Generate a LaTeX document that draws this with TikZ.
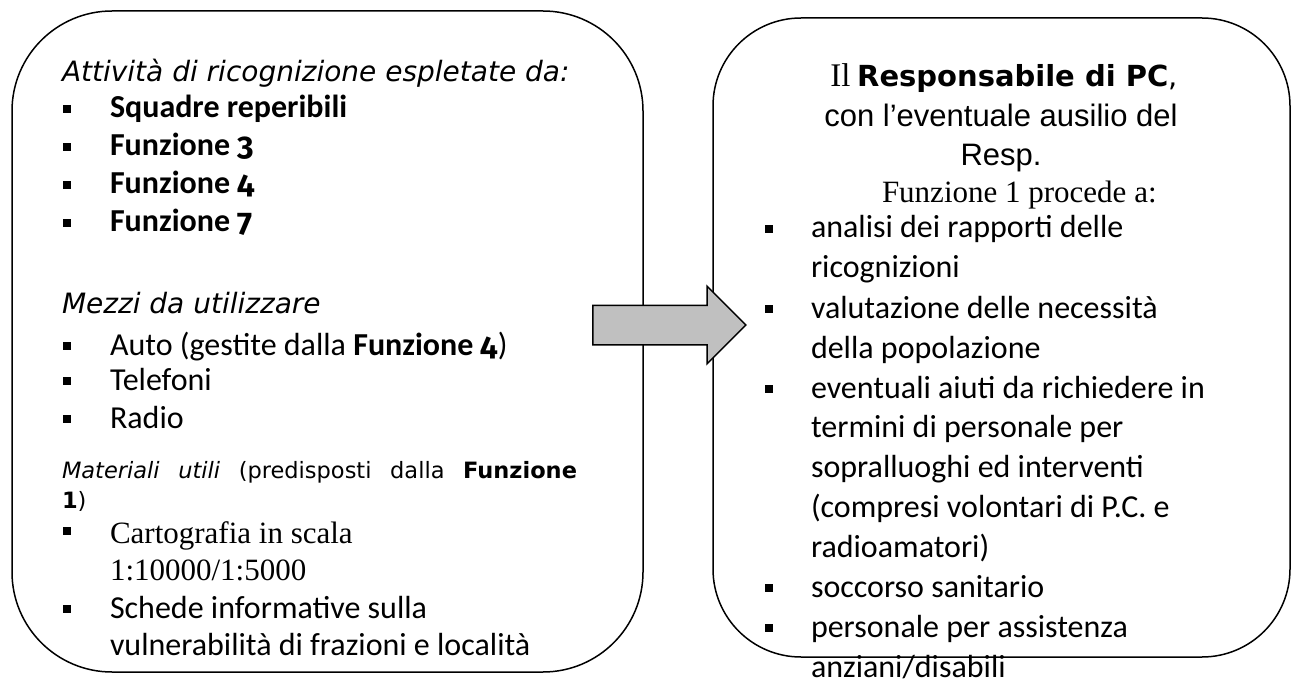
\documentclass[tikz,border=0pt]{standalone}
\usepackage{fontspec}
\setmainfont{Carlito}
\newfontfamily\oldnum{Fira Sans}[Numbers=OldStyle]
\newfontfamily\tahoma{DejaVu Sans}
\newfontfamily\arialf{Liberation Sans}
\newfontfamily\timesf{Liberation Serif}
\usepackage{tikz}
\usetikzlibrary{shapes.arrows}
\definecolor{arrowgray}{RGB}{192,192,192}
\tikzset{
  panel/.style={
    draw,
    line width=1.5pt,
    rounded corners=#1,
    inner sep=0pt
  },
  txt/.style={
    anchor=base west,
    inner sep=0pt,
    outer sep=0pt
  },
  calib/.style={txt, font=\fontsize{32}{38}\selectfont},
  tah/.style={txt, font=\tahoma\fontsize{28}{34}\selectfont},
  serif/.style={txt, font=\timesf\fontsize{31}{36}\selectfont},
  blockarrow/.style={
    single arrow,
    draw,
    fill=arrowgray,
    line width=1.5pt,
    minimum height=153pt,
    inner xsep=0pt,
    inner ysep=19pt,
    single arrow head extend=19pt
  }
}

\begin{document}
\begin{tikzpicture}[x=1pt, y=1pt]
  \useasboundingbox (0,0) rectangle (1291,-679);

  % Left block
  \node[panel=100pt, minimum width=631pt, minimum height=661pt] (recon) at (327.5,-341.5) {};
  \node[tah] (recon-title) at (62,-82) {\itshape Attivit\`a di ricognizione espletate da:};
  \node[calib] (squad) at (110,-118) {\bfseries Squadre reperibili};
  \node[calib] (f3) at (110,-156) {\bfseries Funzione {\oldnum 3}};
  \node[calib] (f4) at (110,-194) {\bfseries Funzione {\oldnum 4}};
  \node[calib] (f7) at (110,-232) {\bfseries Funzione {\oldnum 7}};

  \node[tah] (mezzi) at (62,-313) {\itshape Mezzi da utilizzare};
  \node[calib] (auto) at (110,-355) {Auto (gestite dalla \textbf{Funzione {\oldnum 4}})};
  \node[calib] (tel) at (110,-390) {Telefoni};
  \node[calib] (radio) at (110,-428) {Radio};

  \node[txt, font=\tahoma\fontsize{22.5}{30}\selectfont] (mat) at (62,-478)
    {\makebox[515pt][s]{\textit{Materiali} \textit{utili} (predisposti dalla \textbf{Funzione}}};
  \node[txt, font=\tahoma\fontsize{22.5}{30}\selectfont] (mat2) at (62,-508) {\textbf{1})};
  \node[serif] (carto) at (110,-543) {Cartografia in scala};
  \node[serif] (carto2) at (110,-580) {1:10000/1:5000};
  \node[calib] (schede) at (110,-618) {Schede informative sulla};
  \node[calib] (schede2) at (110,-655) {vulnerabilit\`a di frazioni e localit\`a};

  \foreach \y in {118,156,194,232,355,390,428,540,618}
    \fill (63,-\y+5) rectangle (71,-\y+13);

  % Right block
  \node[panel=88pt, minimum width=577pt, minimum height=639pt] (resp) at (1001.5,-337.5) {};
  \node[anchor=base, inner sep=0pt, font=\fontsize{29}{34}\selectfont] (resp-title) at (1004,-87)
    {{\timesf\fontsize{33}{34}\selectfont Il} {\tahoma\bfseries Responsabile di PC}{\tahoma ,}};
  \node[anchor=base, inner sep=0pt, font=\arialf\fontsize{31}{36}\selectfont] (resp-sub) at (1001,-127)
    {con l’eventuale ausilio del};
  \node[anchor=base, inner sep=0pt, font=\arialf\fontsize{31}{36}\selectfont] (resp-sub2) at (1001,-166) {Resp.};
  \node[serif] (resp-f1) at (882,-203) {Funzione 1 procede a:};

  \node[calib] (an1) at (811,-238) {analisi dei rapporti delle};
  \node[calib] (an2) at (811,-278) {ricognizioni};
  \node[calib] (val1) at (811,-318) {valutazione delle necessit\`a};
  \node[calib] (val2) at (811,-358) {della popolazione};
  \node[calib] (aiu1) at (811,-398) {eventuali aiuti da richiedere in};
  \node[calib] (aiu2) at (811,-437) {termini di personale per};
  \node[calib] (aiu3) at (811,-477) {sopralluoghi ed interventi};
  \node[calib] (aiu4) at (811,-517) {(compresi volontari di P.C. e};
  \node[calib] (aiu5) at (811,-557) {radioamatori)};
  \node[calib] (socc) at (811,-597) {soccorso sanitario};
  \node[calib] (pers1) at (811,-637) {personale per assistenza};
  \node[calib] (pers2) at (811,-677) {anziani/disabili};

  \foreach \y in {238,318,398,597,637}
    \fill (765,-\y+5) rectangle (773,-\y+13);

  % Block arrow
  \node[blockarrow] (flow) at (659.5,-325) {};
\end{tikzpicture}
\end{document}
